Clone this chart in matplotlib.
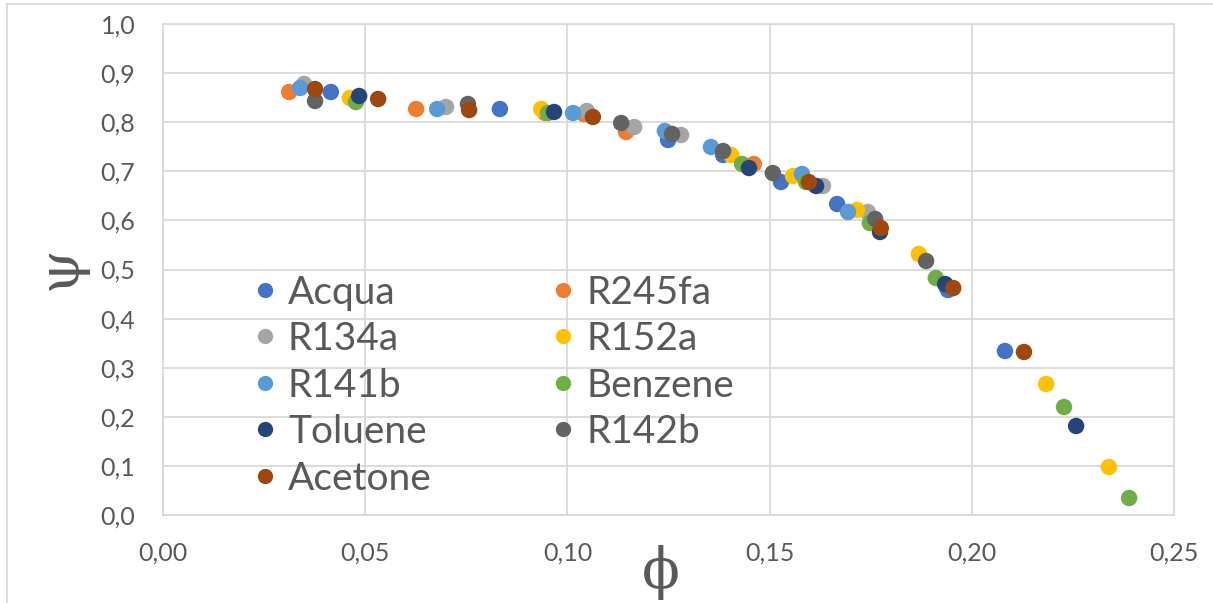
import matplotlib
matplotlib.use("Agg")
import matplotlib.pyplot as plt
from matplotlib.lines import Line2D

# phi / psi values for each working fluid
acqua_phi = [0.0415, 0.0833, 0.1249, 0.1385, 0.1528, 0.1667, 0.1941, 0.2082]
acqua_psi = [0.8615, 0.8269, 0.7637, 0.7332, 0.6782, 0.6334, 0.4582, 0.3340]

r245fa_phi = [0.0312, 0.0626, 0.0945, 0.1041, 0.1145, 0.1461]
r245fa_psi = [0.8615, 0.8269, 0.8187, 0.8167, 0.7800, 0.7149]

r134a_phi = [0.0349, 0.0700, 0.1048, 0.1165, 0.1281, 0.1632, 0.1743]
r134a_psi = [0.8778, 0.8310, 0.8228, 0.7902, 0.7739, 0.6701, 0.6171]

r152a_phi = [0.0462, 0.0935, 0.1405, 0.1558, 0.1716, 0.1869, 0.2184, 0.2339]
r152a_psi = [0.8493, 0.8269, 0.7332, 0.6904, 0.6212, 0.5316, 0.2668, 0.0978]

r141b_phi = [0.0339, 0.0678, 0.1014, 0.1241, 0.1355, 0.1580, 0.1694]
r141b_psi = [0.8697, 0.8269, 0.8187, 0.7821, 0.7495, 0.6945, 0.6171]

benzene_phi = [0.0477, 0.0952, 0.1432, 0.1590, 0.1748, 0.1911, 0.2228, 0.2389]
benzene_psi = [0.8411, 0.8187, 0.7149, 0.6782, 0.5947, 0.4827, 0.2200, 0.0346]

toluene_phi = [0.0485, 0.0967, 0.1449, 0.1615, 0.1773, 0.1934, 0.2258]
toluene_psi = [0.8534, 0.8208, 0.7067, 0.6701, 0.5764, 0.4705, 0.1813]

r142b_phi = [0.0376, 0.0754, 0.1133, 0.1259, 0.1385, 0.1508, 0.1761, 0.1887]
r142b_psi = [0.8432, 0.8371, 0.7984, 0.7760, 0.7413, 0.6965, 0.6029, 0.5173]

acetone_phi = [0.0376, 0.0532, 0.0757, 0.1063, 0.1597, 0.1775, 0.1954, 0.2129]
acetone_psi = [0.8676, 0.8473, 0.8248, 0.8106, 0.6782, 0.5845, 0.4623, 0.3320]

series_names = ["Acqua", "R245fa", "R134a", "R152a", "R141b",
                "Benzene", "Toluene", "R142b", "Acetone"]
series_colors = ["#4472C4", "#ED7D31", "#A5A5A5", "#FFC000", "#5B9BD5",
                 "#70AD47", "#264478", "#636363", "#9E480E"]
series_data = [
    (acqua_phi, acqua_psi), (r245fa_phi, r245fa_psi), (r134a_phi, r134a_psi),
    (r152a_phi, r152a_psi), (r141b_phi, r141b_psi), (benzene_phi, benzene_psi),
    (toluene_phi, toluene_psi), (r142b_phi, r142b_psi), (acetone_phi, acetone_psi),
]

x_ticks = [0.00, 0.05, 0.10, 0.15, 0.20, 0.25]
y_ticks = [0.0, 0.1, 0.2, 0.3, 0.4, 0.5, 0.6, 0.7, 0.8, 0.9, 1.0]

plt.rcParams["font.family"] = ["Lato", "DejaVu Sans"]

W, H = 1213, 603
fig = plt.figure(figsize=(W / 100, H / 100), dpi=100)
ax = fig.add_axes([163 / W, (H - 515) / H, (1174 - 163) / W, (515 - 24) / H])

handles = []
for (xs, ys), name, col in zip(series_data, series_names, series_colors):
    ax.scatter(xs, ys, s=140, color=col, edgecolors="none", zorder=3)
    handles.append(Line2D([], [], linestyle="none", marker="o", markersize=11,
                          markerfacecolor=col, markeredgecolor="none", label=name))

ax.set_xlim(0, 0.25)
ax.set_ylim(0, 1.0)
ax.set_xticks(x_ticks)
ax.set_yticks(y_ticks)
ax.set_xticklabels([f"{v:.2f}".replace(".", ",") for v in x_ticks])
ax.set_yticklabels([f"{v:.1f}".replace(".", ",") for v in y_ticks])
ax.tick_params(axis="both", length=0, labelsize=18, labelcolor="#595959")
ax.tick_params(axis="y", pad=20)
ax.tick_params(axis="x", pad=19)
ax.grid(True, color="#D9D9D9", linewidth=1.3, zorder=0)
ax.set_axisbelow(True)
for side in ["top", "right", "left", "bottom"]:
    ax.spines[side].set_color("#D9D9D9")
    ax.spines[side].set_linewidth(1.3)

# legend laid out row by row in two columns
order = [0, 2, 4, 6, 8, 1, 3, 5, 7]
leg = ax.legend([handles[i] for i in order], [series_names[i] for i in order],
                ncol=2, loc="upper left",
                bbox_to_anchor=((230 - 163) / 1011, (515 - 259) / 491),
                frameon=False, fontsize=28, labelcolor="#595959",
                handletextpad=0.09, columnspacing=2.88, labelspacing=0.27,
                handlelength=1.0, borderaxespad=0)

fig.text(60 / W, 1 - 268 / H, "\u03c8", rotation=90, ha="center", va="center",
         fontsize=40, color="#595959", family="DejaVu Serif")
fig.text(661 / W, 1 - 573 / H, "\u03d5", ha="center", va="center",
         fontsize=40, color="#595959", family="DejaVu Serif")

# outer chart border
fig.add_artist(Line2D([7 / W, 7 / W], [0, 1 - 4 / H], transform=fig.transFigure,
                      color="#D9D9D9", linewidth=1.3))
fig.add_artist(Line2D([7 / W, 1], [1 - 4 / H, 1 - 4 / H], transform=fig.transFigure,
                      color="#D9D9D9", linewidth=1.3))

fig.savefig("out.png", dpi=100, facecolor="white")
